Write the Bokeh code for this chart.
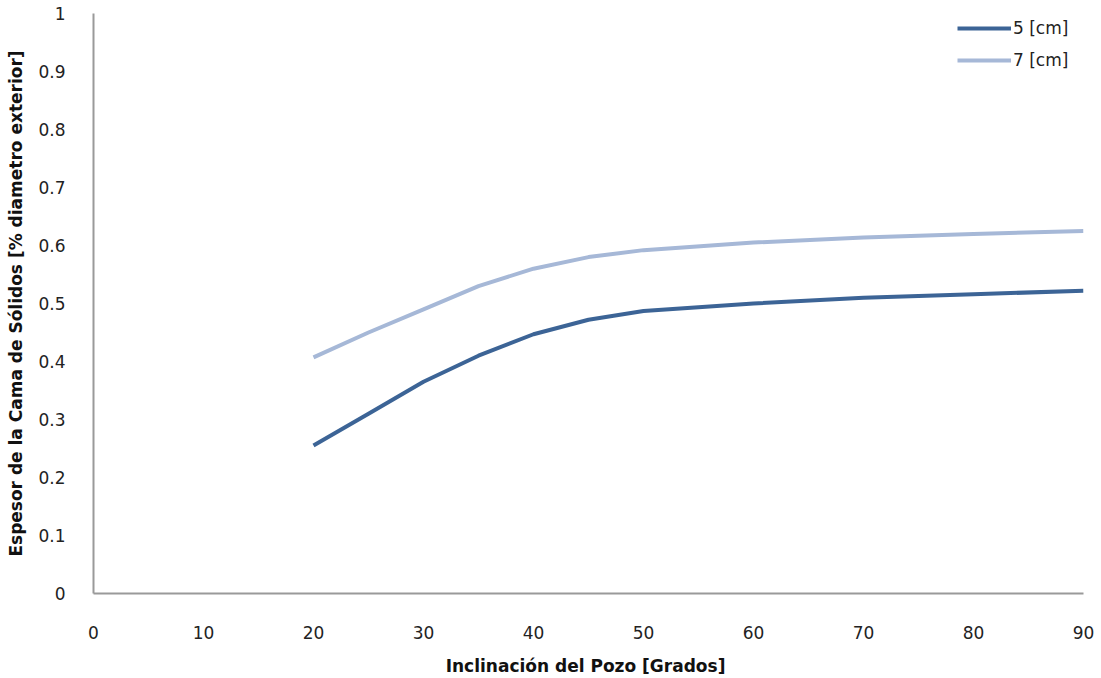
from bokeh.plotting import figure
from bokeh.models import NumeralTickFormatter, FixedTicker, Range1d, Legend, LegendItem
from bokeh.embed import file_html
from bokeh.resources import INLINE

# Data
inclinacion = [20, 25, 30, 35, 40, 45, 50, 60, 70, 80, 90]
espesor_5cm = [0.255, 0.31, 0.365, 0.41, 0.447, 0.472, 0.487, 0.50, 0.510, 0.516, 0.522]
espesor_7cm = [0.407, 0.45, 0.49, 0.53, 0.56, 0.58, 0.592, 0.605, 0.614, 0.620, 0.625]
x_ticks = [0, 10, 20, 30, 40, 50, 60, 70, 80, 90]
y_ticks = [0, 0.1, 0.2, 0.3, 0.4, 0.5, 0.6, 0.7, 0.8, 0.9, 1.0]
series_names = ["5 [cm]", "7 [cm]"]

FONT = "DejaVu Sans"

p = figure(width=1101, height=678, output_backend="svg", toolbar_location=None,
           x_range=Range1d(0, 90), y_range=Range1d(0, 1),
           min_border_left=93, min_border_top=13, min_border_right=18, min_border_bottom=82)
p.outline_line_color = None
p.xgrid.visible = False
p.ygrid.visible = False

r1 = p.line(inclinacion, espesor_5cm, line_color="#3C6496", line_width=4)
r2 = p.line(inclinacion, espesor_7cm, line_color="#A6B8D7", line_width=4)

for ax in (p.xaxis[0], p.yaxis[0]):
    ax.axis_line_color = "#9A9A9A"
    ax.axis_line_width = 2
    ax.major_tick_line_color = None
    ax.minor_tick_line_color = None
    ax.major_label_text_font = FONT
    ax.major_label_text_font_size = "17px"
    ax.major_label_text_color = "#222222"
    ax.axis_label_text_font = FONT
    ax.axis_label_text_font_size = "17px"
    ax.axis_label_text_font_style = "bold"
    ax.axis_label_text_color = "#111111"

p.xaxis[0].ticker = FixedTicker(ticks=x_ticks)
p.yaxis[0].ticker = FixedTicker(ticks=y_ticks)
p.yaxis[0].formatter = NumeralTickFormatter(format="0.[0]")
p.xaxis[0].axis_label = "Inclinación  del Pozo [Grados]"
p.yaxis[0].axis_label = "Espesor de la Cama de Sólidos [% diametro exterior]"
p.xaxis[0].major_label_standoff = 26
p.yaxis[0].major_label_standoff = 22
p.xaxis[0].axis_label_standoff = 14
p.yaxis[0].axis_label_standoff = 9

legend = Legend(items=[LegendItem(label=series_names[0], renderers=[r1]),
                       LegendItem(label=series_names[1], renderers=[r2])],
                location=(864, 523))
legend.border_line_color = None
legend.background_fill_alpha = 0
legend.label_text_font = FONT
legend.label_text_font_size = "17px"
legend.label_text_color = "#222222"
legend.glyph_width = 54
legend.glyph_height = 20
legend.label_height = 20
legend.spacing = 12
legend.label_standoff = 2
legend.margin = 0
legend.padding = 5
p.add_layout(legend)

open("out.html", "w").write(file_html(p, INLINE))
